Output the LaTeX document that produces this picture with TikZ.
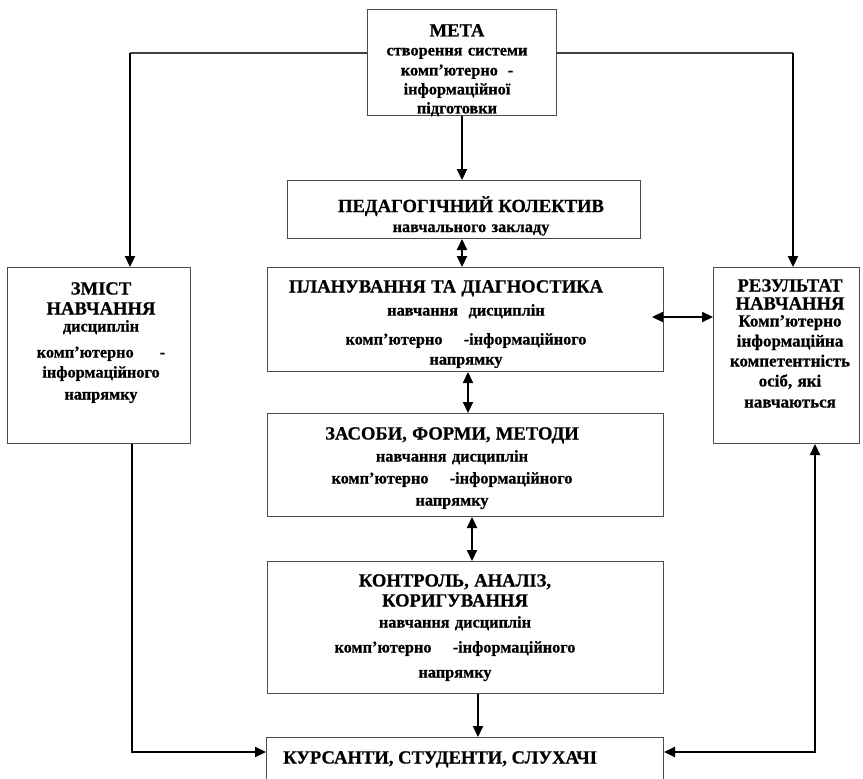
\documentclass[tikz,border=0pt]{standalone}
\usepackage{fontspec}
\setmainfont{Liberation Serif}[BoldFeatures={FakeBold=0.6}]
\usetikzlibrary{arrows.meta}
\newcommand\tf{\fontsize{18.6}{20}\selectfont}
\newcommand\subf{\fontsize{16.3}{20}\selectfont}
\newcommand\resf{\fontsize{17}{20}\selectfont}
\tikzset{
  box/.style={draw=black!70, line width=1pt, inner sep=0pt, anchor=north west},
  txt/.style={inner sep=0pt, anchor=north, align=center, font=\bfseries\fontsize{16}{20}\selectfont},
  conn/.style={line width=2.2pt, draw=black},
  thinline/.style={line width=1.2pt, draw=black!75},
  tip/.style={-{Triangle[length=11pt,width=10pt]}},
  dtip/.style={{Triangle[length=11pt,width=10pt]}-{Triangle[length=11pt,width=10pt]}},
}
\begin{document}
\begin{tikzpicture}[x=1pt,y=-1pt]
\clip (0,0) rectangle (863,779);
\fill[white] (0,0) rectangle (863,779);

% boxes
\node[box, minimum width=189pt, minimum height=106pt] (meta) at (367,9) {};
\node[box, minimum width=353pt, minimum height=58pt] (ped) at (287,180) {};
\node[box, minimum width=396pt, minimum height=104pt] (plan) at (267,267) {};
\node[box, minimum width=396pt, minimum height=103pt] (zas) at (267,413) {};
\node[box, minimum width=396pt, minimum height=132pt] (kon) at (267,561) {};
\node[box, minimum width=397pt, minimum height=80pt] (kurs) at (266,737) {};
\node[box, minimum width=183pt, minimum height=176pt] (zmist) at (7,267) {};
\node[box, minimum width=146pt, minimum height=176pt] (res) at (713,267) {};

% texts
\node[txt, text width=185pt] (metaT) at (457,24) {\tf МЕТА\\[-1pt]\subf створення системи\\[0pt]комп’ютерно\hspace{0.6em}-\\[-1pt]інформаційної\\[-1pt]підготовки};
\node[txt, text width=345pt] (pedT) at (471,196) {\tf ПЕДАГОГІЧНИЙ КОЛЕКТИВ\\\subf навчального закладу};
\node[txt, text width=390pt] (planT) at (466,280) {\makebox[\linewidth][c]{\tf ПЛАНУВАННЯ ТА ДІАГНОСТИКА\hspace{40pt}}\\[3pt]\subf навчання\ \ дисциплін\\[9pt]комп’ютерно\hspace{1.3em}-інформаційного\\[0pt]напрямку};
\node[txt, text width=390pt] (zasT) at (452,427) {\tf ЗАСОБИ, ФОРМИ, МЕТОДИ\\[2pt]\subf навчання дисциплін\\[2pt]комп’ютерно\hspace{1.3em}-інформаційного\\[2pt]напрямку};
\node[txt, text width=390pt] (konT) at (455,574) {\tf КОНТРОЛЬ, АНАЛІЗ,\\КОРИГУВАННЯ\\[1pt]\subf навчання дисциплін\\[5pt]комп’ютерно\hspace{1.3em}-інформаційного\\[5pt]напрямку};
\node[txt, anchor=north west] (kursT) at (283,751) {\tf КУРСАНТИ, СТУДЕНТИ, СЛУХАЧІ};
\node[txt, text width=180pt] (zmistT) at (101,282) {\tf ЗМІСТ\\НАВЧАННЯ\\[-3pt]\subf дисциплін\\[6pt]комп’ютерно\hspace{1.6em}-\\інформаційного\\[2pt]напрямку};
\node[txt, text width=146pt] (resT) at (790,279) {\tf РЕЗУЛЬТАТ\\[-2pt]НАВЧАННЯ\\[-3pt]\resf Комп’ютерно\\інформаційна\\компетентність\\осіб, які\\[1pt]навчаються};

% connector helper coordinates
\coordinate (lt) at (130,53);
\coordinate (rt) at (793,53);
\coordinate (lb) at (132,752);
\coordinate (rb) at (815,752);
\coordinate (c1) at (462,0);
\coordinate (c2) at (462,0);
\coordinate (c3) at (468,0);
\coordinate (c4) at (472,0);
\coordinate (c5) at (478,0);
\coordinate (pl) at (652,317);

% connectors
\draw[thinline] (meta.west |- lt) -- (lt);
\draw[conn,tip] (lt) -- (lt |- zmist.north);
\draw[thinline] (meta.east |- rt) -- (rt);
\draw[conn,tip] (rt) -- (rt |- res.north);
\draw[conn,tip] (meta.south -| c1) -- (ped.north -| c1);
\draw[conn,dtip] (ped.south -| c2) -- (plan.north -| c2);
\draw[conn,dtip] (plan.south -| c3) -- (zas.north -| c3);
\draw[conn,dtip] (zas.south -| c4) -- (kon.north -| c4);
\draw[conn,tip] (kon.south -| c5) -- (kurs.north -| c5);
\draw[conn,dtip] (pl) -- (res.west |- pl);
\draw[conn,tip] (zmist.south -| lb) -- (lb) -- (kurs.west |- lb);
\draw[conn,dtip] (res.south -| rb) -- (rb) -- (kurs.east |- rb);
\end{tikzpicture}
\end{document}
